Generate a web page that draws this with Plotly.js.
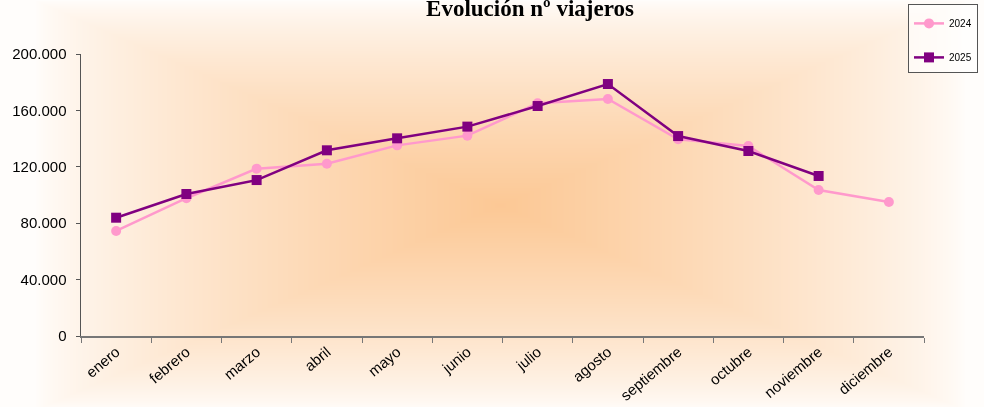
<!DOCTYPE html>
<html>
<head>
<meta charset="utf-8">
<script src="https://cdn.plot.ly/plotly-3.0.1.min.js"></script>
<style>
  html, body { margin: 0; padding: 0; background: #fffdfb; }
  #wrap { position: relative; width: 984px; height: 407px; overflow: hidden; background: #fffcf9; }
  #bg { position: absolute; left: 0; top: 0; width: 984px; height: 407px; }
  #chart { position: absolute; left: 0; top: 0; width: 984px; height: 407px; }
</style>
</head>
<body>
<div id="wrap">
  <canvas id="bg" width="984" height="407"></canvas>
  <div id="chart"></div>
</div>
<script>
const months = ['enero','febrero','marzo','abril','mayo','junio','julio','agosto','septiembre','octubre','noviembre','diciembre'];
const v2024 = [74500, 97700, 118700, 122200, 135200, 142100, 165000, 168100, 139500, 134700, 103500, 95000];
const v2025 = [83900, 100700, 110600, 131700, 140200, 148500, 163100, 178700, 141800, 131200, 113500, null];
const yTicks = [0, 40000, 80000, 120000, 160000, 200000];

// rectangular "from centre" background gradient (decorative)
(function () {
  const c = document.getElementById('bg');
  const ctx = c.getContext('2d');
  const W = c.width, H = c.height;
  const img = ctx.createImageData(W, H);
  const cx = 500, cy = 205, hw = 465, hh = 205;
  const inner = [252, 200, 149], outer = [255, 253, 251];
  for (let y = 0; y < H; y++) {
    for (let x = 0; x < W; x++) {
      let t = Math.max(Math.abs(x - cx) / hw, Math.abs(y - cy) / hh);
      t = Math.min(1, t);
      let a = Math.pow(1 - t, 0.75);
      const i = (y * W + x) * 4;
      img.data[i] = Math.round(outer[0] + (inner[0] - outer[0]) * a);
      img.data[i + 1] = Math.round(outer[1] + (inner[1] - outer[1]) * a);
      img.data[i + 2] = Math.round(outer[2] + (inner[2] - outer[2]) * a);
      img.data[i + 3] = 255;
    }
  }
  ctx.putImageData(img, 0, 0);
})();

const traces = [
  { x: months, y: v2024, name: '2024', type: 'scatter', mode: 'lines+markers', legendgroup: 'a',
    line: { color: '#FF99CC', width: 2.5 }, marker: { symbol: 'circle', size: 10, color: '#FF99CC' } },
  { x: months, y: v2025, name: '2025', type: 'scatter', mode: 'lines+markers', legendgroup: 'b',
    line: { color: '#800080', width: 2.5 }, marker: { symbol: 'square', size: 10, color: '#800080' } }
];

const layout = {
  width: 984, height: 407,
  paper_bgcolor: 'rgba(0,0,0,0)', plot_bgcolor: 'rgba(0,0,0,0)',
  margin: { l: 81, r: 60, t: 54, b: 71, autoexpand: false },
  separators: ',.',
  font: { family: 'Liberation Sans, Arial, sans-serif', color: '#000' },
  title: { text: '<b>Evolución nº viajeros</b>', font: { family: 'Liberation Serif, Times New Roman, serif', size: 23, color: '#000' },
           xref: 'container', yref: 'container', x: 530/984, xanchor: 'center', y: 1 - 8/407, yanchor: 'middle' },
  showlegend: true,
  legend: { xref: 'container', yref: 'container', x: 908/984, y: 1 - 4/407, xanchor: 'left', yanchor: 'top',
            bgcolor: 'rgba(255,255,255,0.6)', bordercolor: '#555', borderwidth: 1,
            title: { text: '&nbsp;', font: { size: 3 } },
            font: { size: 10, color: '#000' }, tracegroupgap: 15, itemwidth: 30 },
  xaxis: { type: 'category', tickson: 'boundaries', ticks: 'outside', ticklen: 5, tickcolor: '#777',
           showline: true, linecolor: '#777', linewidth: 1.5, showgrid: false, zeroline: false,
           tickangle: -40, tickfont: { size: 15, color: '#000' }, range: [-0.5, 11.5] },
  yaxis: { range: [0, 200000], tickvals: yTicks, tickformat: ',d', ticks: 'outside', ticklen: 4, tickcolor: '#555',
           showline: true, linecolor: '#555', linewidth: 1.5, showgrid: false, zeroline: false,
           tickfont: { size: 15, color: '#000' }, ticklabelstandoff: 6 }
};

Plotly.newPlot('chart', traces, layout, { displayModeBar: false, staticPlot: true });
</script>
</body>
</html>
